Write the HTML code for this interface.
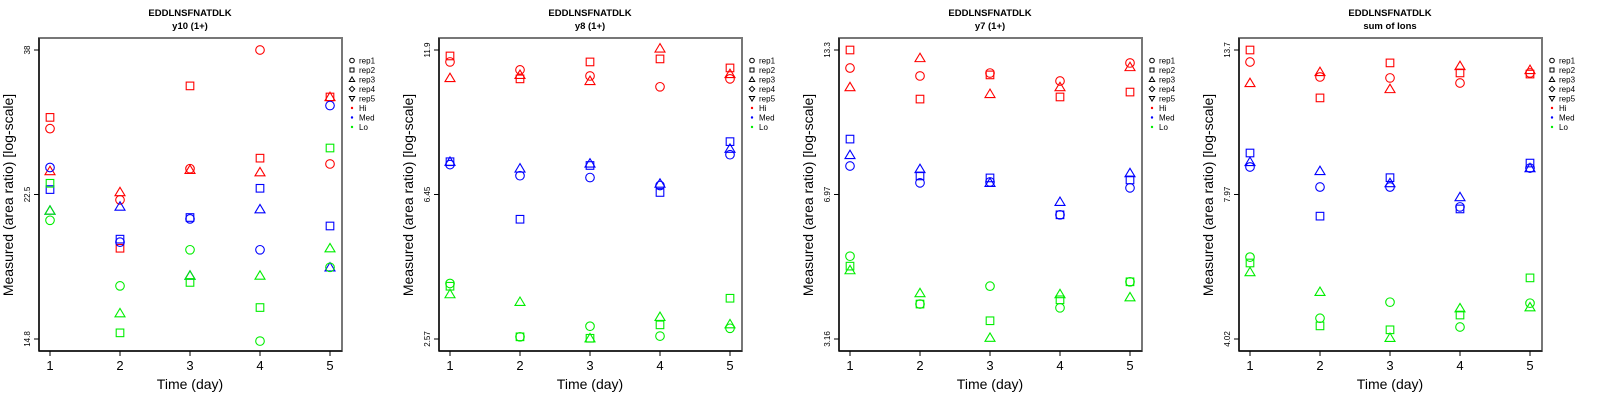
<!DOCTYPE html>
<html><head><meta charset="utf-8"><style>
html,body{margin:0;padding:0;background:#fff;}
svg{display:block;font-family:"Liberation Sans",sans-serif;}
</style></head><body>
<svg id="chart" width="1600" height="400" viewBox="0 0 1600 400"></svg>
<script>
// Shared categories
const days = [1, 2, 3, 4, 5];
const groups = ["Hi", "Med", "Lo"];
const reps = ["rep1", "rep2", "rep3"];
// Panel titles and axis ticks
const panelTitles = ["y10 (1+)", "y8 (1+)", "y7 (1+)", "sum of Ions"];
const tickLo = [14.8, 2.57, 3.16, 4.02];
const tickHi = [38, 11.9, 13.3, 13.7];
const tickMidLabels = ["22.5", "6.45", "6.97", "7.97"];
// Values: [panel][group][rep][day]
const p1Hi  = [[29.4,23.3,25.8,38.0,26.2],[30.5,19.9,33.8,26.7,32.6],[25.6,23.9,25.7,25.5,32.6]];
const p1Med = [[25.9,20.3,21.9,19.8,31.7],[24.1,20.5,22.0,24.2,21.4],[22.5,22.8,18.2,22.6,18.7]];
const p1Lo  = [[21.8,17.6,19.8,14.7,18.7],[24.6,15.1,17.8,16.4,27.6],[22.5,16.1,18.2,18.2,19.9]];
const p2Hi  = [[11.17,10.71,10.37,9.79,10.21],[11.53,10.21,11.17,11.35,10.82],[10.26,10.43,10.10,12.0,10.48]];
const p2Med = [[6.48,6.11,6.05,5.80,6.83],[6.58,4.85,6.45,5.59,7.32],[6.58,6.35,6.52,5.86,7.05]];
const p2Lo  = [[3.45,2.60,2.75,2.61,2.72],[3.40,2.60,2.58,2.77,3.19],[3.26,3.13,2.58,2.89,2.78]];
const p3Hi  = [[12.16,11.69,11.86,11.40,12.47],[13.3,10.42,11.75,10.53,10.79],[11.06,12.78,10.69,11.06,12.22]];
const p3Med = [[7.47,6.87,6.90,5.86,6.70],[8.54,7.11,7.04,5.86,6.97],[7.89,7.36,6.87,6.25,7.21]];
const p3Lo  = [[4.77,3.76,4.11,3.69,4.20],[4.54,3.76,3.46,3.84,4.20],[4.45,3.97,3.18,3.95,3.89]];
const p4Hi  = [[13.02,12.22,12.17,11.91,12.43],[13.7,11.18,12.97,12.43,12.37],[11.91,12.48,11.61,12.80,12.59]];
const p4Med = [[8.34,7.66,7.66,7.04,8.30],[8.85,6.77,7.97,6.98,8.48],[8.52,8.20,7.79,7.34,8.30]];
const p4Lo  = [[5.69,4.39,4.70,4.23,4.68],[5.55,4.25,4.18,4.45,5.21],[5.34,4.91,4.04,4.58,4.60]];
const panelData = [[p1Hi,p1Med,p1Lo],[p2Hi,p2Med,p2Lo],[p3Hi,p3Med,p3Lo],[p4Hi,p4Med,p4Lo]];

const NS = "http://www.w3.org/2000/svg";
const svg = document.getElementById("chart");
const colors = ["#ff0000", "#0000ff", "#00ee00"];
function mk(tag, attrs, parent) {
  const e = document.createElementNS(NS, tag);
  for (const k in attrs) e.setAttribute(k, attrs[k]);
  parent.appendChild(e);
  return e;
}
const L = 39, R = 342, T = 38, B = 351, YT = 50, YB = 339;
function xScale(d) { return 50 + (d - 1) * 70; }
function makeY(lo, hi) {
  return v => YB - (Math.log(v) - Math.log(lo)) / (Math.log(hi) - Math.log(lo)) * (YB - YT);
}
function marker(g, shape, cx, cy, color) {
  let m;
  if (shape === 0) m = mk("circle", {cx: cx, cy: cy, r: 4.3, fill: "none", stroke: color, "stroke-width": 1.1}, g);
  else if (shape === 1) m = mk("rect", {x: cx - 3.8, y: cy - 3.8, width: 7.6, height: 7.6, fill: "none", stroke: color, "stroke-width": 1.1}, g);
  else m = mk("polygon", {points: `${cx},${cy - 4.8} ${cx - 5},${cy + 3.6} ${cx + 5},${cy + 3.6}`, fill: "none", stroke: color, "stroke-width": 1.1}, g);
  return m;
}

for (let p = 0; p < 4; p++) {
  const g = mk("g", {transform: `translate(${p * 400},0)`}, svg);
  
  
  const y = makeY(tickLo[p], tickHi[p]);
  const t1 = mk("text", {x: 190, y: 16, "text-anchor": "middle", "font-size": 9.5, "font-weight": "bold"}, g);
  t1.textContent = "EDDLNSFNATDLK";
  
  
  const t2 = mk("text", {x: 190, y: 29, "text-anchor": "middle", "font-size": 9.5, "font-weight": "bold"}, g);
  t2.textContent = panelTitles[p];
  
  
  const box = mk("rect", {x: L, y: T, width: R - L, height: B - T, fill: "none", stroke: "#777", "stroke-width": 2}, g);
  
  
  mk("line", {x1: L, y1: T, x2: L, y2: B, stroke: "#000", "stroke-width": 1.2}, g);
  mk("line", {x1: L, y1: B, x2: R, y2: B, stroke: "#000", "stroke-width": 1.2}, g);
  // x ticks
  days.forEach(d => {
    mk("line", {x1: xScale(d), y1: B, x2: xScale(d), y2: B + 5, stroke: "#000"}, g);
    const tl = mk("text", {x: xScale(d), y: 370, "text-anchor": "middle", "font-size": 13}, g);
    tl.textContent = d;
    
    
  });
  // y ticks
  const mid = Math.sqrt(tickLo[p] * tickHi[p]);
  const yt = [[tickLo[p], String(tickLo[p])], [mid, tickMidLabels[p]], [tickHi[p], String(tickHi[p])]];
  yt.forEach(([v, lab]) => {
    const yy = y(v);
    mk("line", {x1: L - 5, y1: yy, x2: L, y2: yy, stroke: "#000"}, g);
    const tl = mk("text", {x: 0, y: 0, "text-anchor": "middle", "font-size": 8, transform: `translate(30,${yy}) rotate(-90)`}, g);
    tl.textContent = lab;
    
    
  });
  const xt = mk("text", {x: 190, y: 389, "text-anchor": "middle", "font-size": 14}, g);
  xt.textContent = "Time (day)";
  
  
  const ytt = mk("text", {x: 0, y: 0, "text-anchor": "middle", "font-size": 14, transform: "translate(13,195) rotate(-90)"}, g);
  ytt.textContent = "Measured (area ratio) [log-scale]";
  
  
  // points
  for (let gi = 0; gi < 3; gi++) {
    for (let ri = 0; ri < 3; ri++) {
      days.forEach((d, di) => {
        const m = marker(g, ri, xScale(d), y(panelData[p][gi][ri][di]), colors[gi]);
        
        
      });
    }
  }
  // legend
  const lg = mk("g", {}, g);
  
  
  const labels = ["rep1", "rep2", "rep3", "rep4", "rep5", "Hi", "Med", "Lo"];
  labels.forEach((lab, i) => {
    const ly = 60.5 + i * 9.5;
    const lx = 352;
    if (i === 0) mk("circle", {cx: lx, cy: ly, r: 2.3, fill: "none", stroke: "#000"}, lg);
    else if (i === 1) mk("rect", {x: lx - 2, y: ly - 2, width: 4, height: 4, fill: "none", stroke: "#000"}, lg);
    else if (i === 2) mk("polygon", {points: `${lx},${ly - 2.6} ${lx - 2.7},${ly + 2} ${lx + 2.7},${ly + 2}`, fill: "none", stroke: "#000"}, lg);
    else if (i === 3) mk("polygon", {points: `${lx},${ly - 2.7} ${lx + 2.7},${ly} ${lx},${ly + 2.7} ${lx - 2.7},${ly}`, fill: "none", stroke: "#000"}, lg);
    else if (i === 4) mk("polygon", {points: `${lx},${ly + 2.6} ${lx - 2.7},${ly - 2} ${lx + 2.7},${ly - 2}`, fill: "none", stroke: "#000"}, lg);
    else mk("circle", {cx: lx, cy: ly, r: 1.2, fill: colors[i - 5]}, lg);
    const tx = mk("text", {x: 359, y: ly + 3, "font-size": 8}, lg);
    tx.textContent = lab;
    
    
  });
}
</script>
</body></html>
